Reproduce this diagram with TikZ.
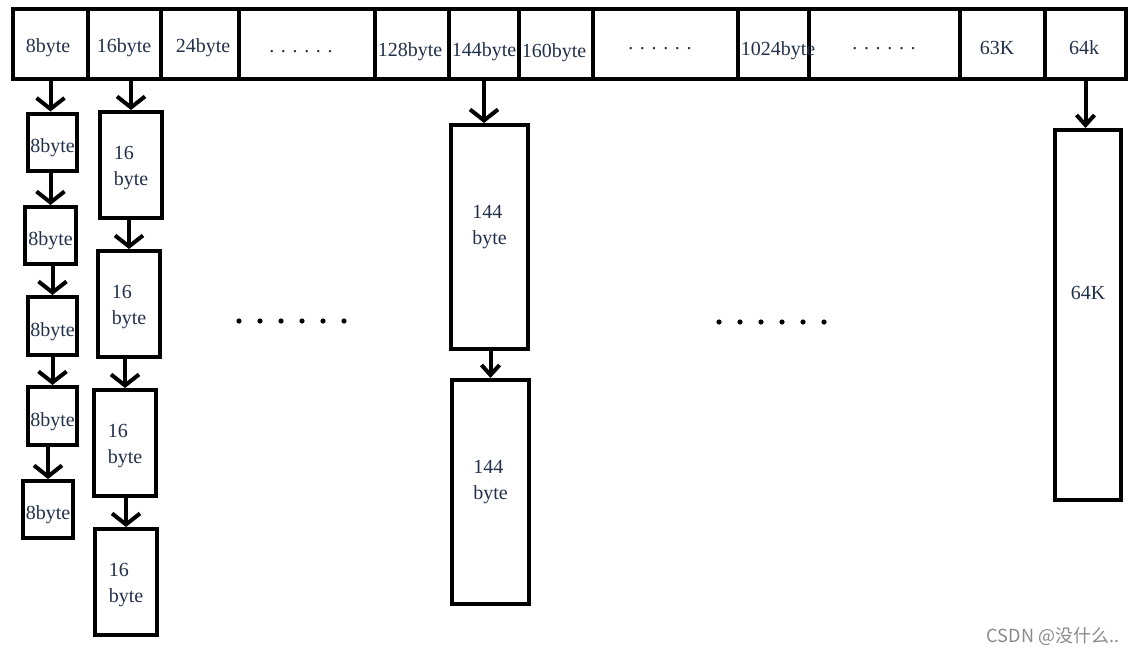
\documentclass[tikz,border=0pt]{standalone}
\usepackage{fontspec}
\setmainfont{Liberation Serif}
\newfontfamily\cjk{Noto Sans CJK SC}
\usetikzlibrary{arrows.meta}
\definecolor{ink}{HTML}{22304A}
\definecolor{mark}{HTML}{8A8A8A}
\tikzset{
  cell/.style={draw,line width=4pt,minimum height=70pt,inner sep=0pt},
  blk/.style={draw,line width=4pt,inner sep=0pt,text=ink,font=\fontsize{20}{26}\selectfont},
  sbox/.style={blk,text height=20pt,text depth=0pt},
  dbox/.style={blk,align=left,minimum width=62pt,minimum height=106pt,text height=40pt,text depth=0pt},
  lbl/.style={text=ink,font=\fontsize{20}{24}\selectfont,anchor=base,inner sep=0pt},
  arr/.style={line width=4pt,-{Straight Barb[length=11pt,width=28pt]}},
  arrs/.style={line width=4pt,-{Straight Barb[length=10pt,width=18pt]}},
}

\begin{document}
\begin{tikzpicture}[x=1pt,y=-1pt]
\useasboundingbox (0,0) rectangle (1141,656);
% size classes
\node[cell,minimum width=75pt] (c8) at (50.5,44) {};
\node[cell,minimum width=73pt] (c16) at (124.5,44) {};
\node[cell,minimum width=78pt] (c24) at (200,44) {};
\node[cell,minimum width=136pt] (cd1) at (307,44) {};
\node[cell,minimum width=74pt] (c128) at (412,44) {};
\node[cell,minimum width=70pt] (c144) at (484,44) {};
\node[cell,minimum width=74pt] (c160) at (556,44) {};
\node[cell,minimum width=145pt] (cd2) at (665.5,44) {};
\node[cell,minimum width=71pt] (c1024) at (773.5,44) {};
\node[cell,minimum width=151pt] (cd3) at (884.5,44) {};
\node[cell,minimum width=85pt] (c63) at (1002.5,44) {};
\node[cell,minimum width=81pt] (c64) at (1085.5,44) {};
\node[lbl] (l8) at (48,52) {8byte};
\node[lbl] (l16) at (124,52) {16byte};
\node[lbl] (l24) at (203,52) {24byte};
\node[lbl] (ld1) at (301,52) {. . . . . .};
\node[lbl] (l128) at (410,56) {128byte};
\node[lbl] (l144) at (484,56) {144byte};
\node[lbl] (l160) at (554,57) {160byte};
\node[lbl] (ld2) at (660,49) {. . . . . .};
\node[lbl] (l1024) at (778,55) {1024byte};
\node[lbl] (ld3) at (884,49) {. . . . . .};
\node[lbl] (l63) at (997,54) {63K};
\node[lbl] (l64) at (1084,54) {64k};

% 8 byte chain
\node[sbox,minimum width=49pt,minimum height=57pt] (a1) at (52.5,142) {8byte};
\node[sbox,minimum width=51pt,minimum height=57pt] (a2) at (50.5,235.5) {8byte};
\node[sbox,minimum width=49pt,minimum height=58pt] (a3) at (52.5,326) {8byte};
\node[sbox,minimum width=49pt,minimum height=58pt] (a4) at (52.5,416) {8byte};
\node[sbox,minimum width=50pt,minimum height=57pt] (a5) at (48,509.5) {8byte};
\draw[arr] (c8.south) -- (c8.south |- a1.north);
\draw[arr] (a2.north |- a1.south) -- (a2.north);
\draw[arr] (a3.north |- a2.south) -- (a3.north);
\draw[arr] (a4.north |- a3.south) -- (a4.north);
\draw[arr] (a5.north |- a4.south) -- (a5.north);

% 16 byte chain
\node[dbox] (b1) at (131,165) {16\\byte};
\node[dbox] (b2) at (129,304) {16\\byte};
\node[dbox] (b3) at (125,443) {16\\byte};
\node[dbox] (b4) at (126,582) {16\\byte};
\draw[arr] (b1.north |- c16.south) -- (b1.north);
\draw[arr] (b2.north |- b1.south) -- (b2.north);
\draw[arr] (b3.north |- b2.south) -- (b3.north);
\draw[arr] (b4.north |- b3.south) -- (b4.north);

% 144 byte chain
\node[blk,align=left,minimum width=77pt,minimum height=224pt,text height=40pt,text depth=26pt] (d1) at (489.5,237) {144\\byte};
\node[blk,align=left,minimum width=77pt,minimum height=224pt,text height=40pt,text depth=26pt] (d2) at (490.5,492) {144\\byte};
\draw[arr] (c144.south) -- (c144.south |- d1.north);
\draw[arrs] (d2.north |- d1.south) -- (d2.north);

% 64K chain
\node[blk,minimum width=66pt,minimum height=370pt,text height=14pt,text depth=46pt] (e1) at (1088,315) {64K};
\draw[arrs] (c64.south) -- (c64.south |- e1.north);

% gaps between chains
\foreach \x in {239,260,...,344} \fill (\x,321) circle (2.6pt);
\foreach \x in {719,740,...,824} \fill (\x,322) circle (2.6pt);

\node[text=mark,font=\cjk\fontsize{18}{20}\selectfont,inner sep=0pt] (wm) at (1053,637) {CSDN @没什么..};
\end{tikzpicture}
\end{document}
